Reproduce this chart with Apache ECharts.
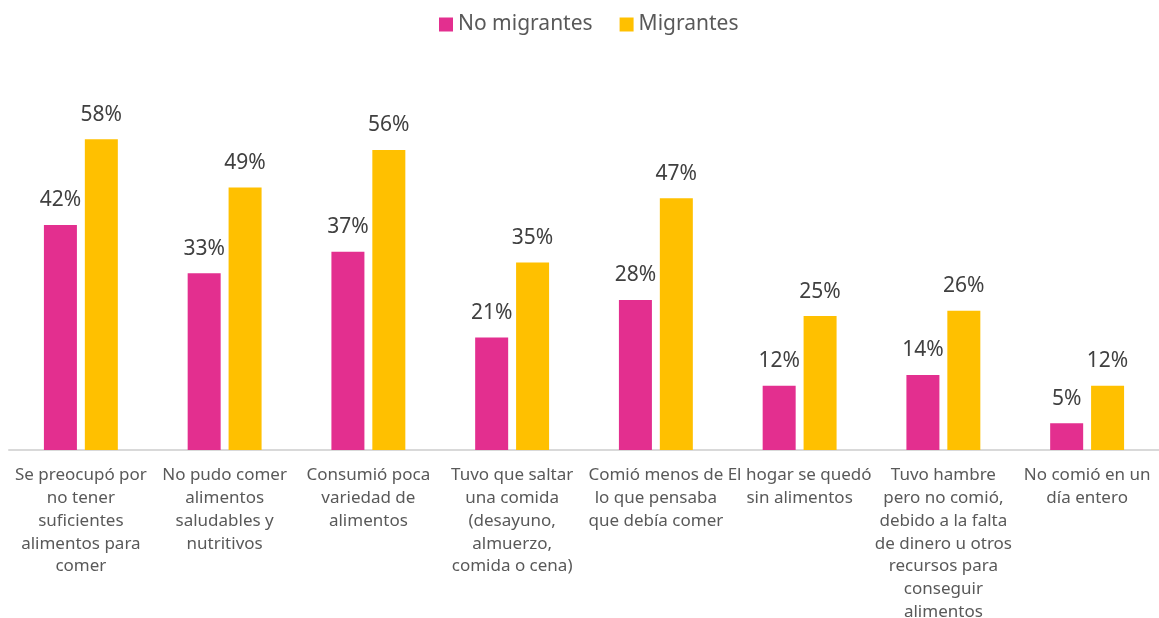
<!DOCTYPE html>
<html>
<head>
<meta charset="utf-8">
<script src="https://cdn.jsdelivr.net/npm/echarts@6/dist/echarts.min.js"></script>
<style>
  html, body { margin: 0; padding: 0; background: #fff; }
  #chart { width: 1159px; height: 618px; }
</style>
</head>
<body>
<div id="chart"></div>
<script>
// Category labels (line breaks as laid out under each group)
const categories = [
  'Se preocupó por\nno tener\nsuficientes\nalimentos para\ncomer',
  'No pudo comer\nalimentos\nsaludables y\nnutritivos',
  'Consumió poca\nvariedad de\nalimentos',
  'Tuvo que saltar\nuna comida\n(desayuno,\nalmuerzo,\ncomida o cena)',
  'Comió menos de\nlo que pensaba\nque debía comer',
  'El hogar se quedó\nsin alimentos',
  'Tuvo hambre\npero no comió,\ndebido a la falta\nde dinero u otros\nrecursos para\nconseguir\nalimentos',
  'No comió en un\ndía entero'
];

// Share of households (%)
const noMigrantes = [42, 33, 37, 21, 28, 12, 14, 5];
const migrantes = [58, 49, 56, 35, 47, 25, 26, 12];

const FONT = '"Noto Sans", "Open Sans", sans-serif';

const chart = echarts.init(document.getElementById('chart'));

const labelStyle = {
  show: true,
  position: 'top',
  distance: 14,
  formatter: p => p.value + '%',
  color: '#404040',
  fontSize: 21,
  fontFamily: FONT
};

chart.setOption({
  animation: false,
  legend: {
    top: 9,
    left: 434,
    itemWidth: 14,
    itemHeight: 14,
    itemGap: 27,
    icon: 'rect',
    textStyle: { color: '#595959', fontSize: 21, fontFamily: FONT },
    data: ['No migrantes', 'Migrantes']
  },
  grid: { left: 9, right: 0, top: 75, bottom: 168, containLabel: false, outerBoundsMode: 'none' },
  xAxis: {
    type: 'category',
    data: categories,
    axisLine: { lineStyle: { color: '#d9d9d9', width: 2 } },
    axisTick: { show: false },
    axisLabel: {
      interval: 0,
      margin: 14,
      color: '#595959',
      fontSize: 17,
      lineHeight: 22.8,
      fontFamily: FONT,
      align: 'center',
      verticalAlign: 'top'
    }
  },
  yAxis: {
    type: 'value',
    min: 0,
    max: 70,
    show: false,
    splitLine: { show: false }
  },
  series: [
    {
      name: 'No migrantes',
      type: 'bar',
      data: noMigrantes,
      barWidth: 33,
      barGap: '24%',
      itemStyle: { color: '#E32F8F' },
      label: labelStyle
    },
    {
      name: 'Migrantes',
      type: 'bar',
      data: migrantes,
      barWidth: 33,
      itemStyle: { color: '#FFC000' },
      label: labelStyle
    }
  ]
});
</script>
</body>
</html>
